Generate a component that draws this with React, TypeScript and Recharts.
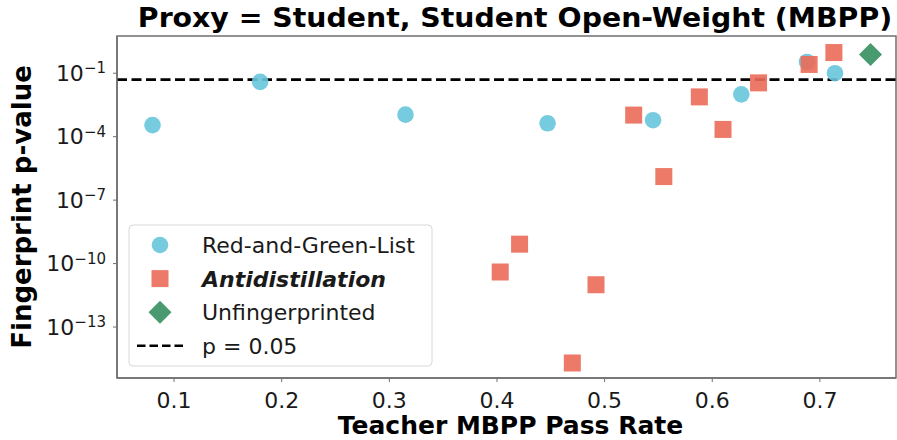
import React from "react";
import {
  ScatterChart,
  Scatter,
  XAxis,
  YAxis,
  ReferenceLine,
  ReferenceArea,
  Legend,
} from "recharts";

// values
const rglRate = [0.08, 0.18, 0.315, 0.447, 0.545, 0.627, 0.688, 0.714];
const rglP = [3.5e-4, 3.9e-2, 1.1e-3, 4.3e-4, 6.0e-4, 1.0e-2, 0.34, 0.1];

const antiRate = [0.403, 0.421, 0.47, 0.492, 0.527, 0.555, 0.588, 0.61, 0.643, 0.69, 0.713];
const antiP = [4.0e-11, 8.3e-10, 2.0e-15, 1.0e-11, 1.05e-3, 1.3e-6, 7.6e-3, 2.2e-4, 3.5e-2, 0.26, 0.95];

const plainRate = [0.747];
const plainP = [0.76];

const xTicks = [0.1, 0.2, 0.3, 0.4, 0.5, 0.6, 0.7];
const yTicks = [1e-13, 1e-10, 1e-7, 1e-4, 1e-1];
const xDomain: [number, number] = [0.047, 0.7707];
const yDomain: [number, number] = [3.9e-16, 5.75];
const threshold = 0.05;

const BLUE = "#68c5dc";
const RED = "#eb6a58";
const GREEN = "#3f9566";
const AXIS = "#6f6f6f";
const TEXT = "#1a1a1a";

const toPoints = (xs: number[], ps: number[]) =>
  xs.map((x, i) => ({ x, p: ps[i] }));

const rglData = toPoints(rglRate, rglP);
const antiData = toPoints(antiRate, antiP);
const plainData = toPoints(plainRate, plainP);

const CircleDot = (props: any) => (
  <circle cx={props.cx} cy={props.cy} r={8.3} fill={BLUE} fillOpacity={0.9} />
);

const SquareDot = (props: any) => (
  <rect
    x={props.cx - 8.5}
    y={props.cy - 8.5}
    width={17}
    height={17}
    fill={RED}
    fillOpacity={0.9}
  />
);

const DiamondDot = (props: any) => {
  const { cx, cy } = props;
  const r = 11.5;
  return (
    <polygon
      points={`${cx},${cy - r} ${cx + r},${cy} ${cx},${cy + r} ${cx - r},${cy}`}
      fill={GREEN}
      fillOpacity={0.95}
    />
  );
};

const LogTick = (props: any) => {
  const { x, y, payload } = props;
  const e = Math.round(Math.log10(payload.value));
  return (
    <text x={x} y={y + 7.5} textAnchor="end" fontSize={22} fill={TEXT}>
      <tspan>10</tspan>
      <tspan dy={-7.5} fontSize={15}>{`\u2212${-e}`}</tspan>
    </text>
  );
};

const legendRows = [
  { name: "Red-and-Green-List", kind: "circle" },
  { name: "Antidistillation", kind: "square" },
  { name: "Unfingerprinted", kind: "diamond" },
  { name: "p = 0.05", kind: "dash" },
];

const renderLegend = () => (
  <svg width={306} height={144} style={{ display: "block" }}>
    <rect
      x={1}
      y={1}
      width={303}
      height={141}
      rx={4}
      fill="#fff"
      fillOpacity={0.8}
      stroke="#d8d8d8"
    />
    {legendRows.map((row, i) => {
      const cy = 21 + i * 33.6;
      let mark: React.ReactNode = null;
      if (row.kind === "circle") mark = <CircleDot cx={32} cy={cy} />;
      if (row.kind === "square") mark = <SquareDot cx={32} cy={cy} />;
      if (row.kind === "diamond") mark = <DiamondDot cx={32} cy={cy} />;
      if (row.kind === "dash")
        mark = (
          <line
            x1={9}
            x2={55}
            y1={cy}
            y2={cy}
            stroke="#000"
            strokeWidth={2.6}
            strokeDasharray="8.5 4"
          />
        );
      const special = row.kind === "square";
      return (
        <g key={row.name}>
          {mark}
          <text
            x={74}
            y={cy + 8}
            fontSize={22}
            fill={TEXT}
            fontWeight={special ? "bold" : "normal"}
            fontStyle={special ? "italic" : "normal"}
          >
            {row.name}
          </text>
        </g>
      );
    })}
  </svg>
);

export default function App() {
  return (
    <div
      style={{
        position: "absolute",
        left: 0,
        top: 0,
        width: 897,
        height: 440,
        background: "#fff",
        fontFamily: "'DejaVu Sans', sans-serif",
      }}
    >
      <div
        style={{
          position: "absolute",
          left: 133,
          width: 764,
          top: 5,
          textAlign: "center",
          fontSize: 26,
          lineHeight: "26px",
          fontWeight: "bold",
          color: "#000",
          whiteSpace: "nowrap",
          transform: "scaleX(1.09)",
          transformOrigin: "center",
        }}
      >
        Proxy = Student, Student Open-Weight (MBPP)
      </div>
      <ScatterChart
        width={897}
        height={440}
        margin={{ top: 36, right: 1, bottom: 0, left: 0 }}
      >
        <XAxis
          type="number"
          dataKey="x"
          domain={xDomain}
          ticks={xTicks}
          allowDataOverflow
          height={62}
          tickSize={4}
          tickMargin={10}
          axisLine={{ stroke: AXIS, strokeWidth: 1.5 }}
          tickLine={{ stroke: AXIS }}
          tick={{ fontSize: 22, fill: TEXT }}
          tickFormatter={(v: number) => v.toFixed(1)}
          label={{
            value: "Teacher MBPP Pass Rate",
            position: "insideBottom",
            offset: 6,
            fontSize: 25,
            fontWeight: "bold",
            fill: "#000",
            dx: 4,
          }}
        />
        <YAxis
          type="number"
          dataKey="p"
          scale="log"
          domain={yDomain}
          ticks={yTicks}
          allowDataOverflow
          width={117}
          tickSize={4}
          tickMargin={7}
          axisLine={{ stroke: AXIS, strokeWidth: 1.5 }}
          tickLine={{ stroke: AXIS }}
          tick={<LogTick />}
          label={{
            value: "Fingerprint p-value",
            angle: -90,
            position: "insideLeft",
            offset: 22,
            fontSize: 26,
            fontWeight: "bold",
            fill: "#000",
            style: { textAnchor: "middle" },
          }}
        />
        <ReferenceArea
          x1={xDomain[0]}
          x2={xDomain[1]}
          y1={yDomain[0]}
          y2={yDomain[1]}
          fill="none"
          stroke={AXIS}
          strokeWidth={1.5}
          ifOverflow="visible"
        />
        <Scatter
          name="Red-and-Green-List"
          data={rglData}
          shape={<CircleDot />}
          isAnimationActive={false}
        />
        <Scatter
          name="Antidistillation"
          data={antiData}
          shape={<SquareDot />}
          isAnimationActive={false}
        />
        <Scatter
          name="Unfingerprinted"
          data={plainData}
          shape={<DiamondDot />}
          isAnimationActive={false}
        />
        <ReferenceLine
          y={threshold}
          stroke="#000"
          strokeWidth={2.6}
          strokeDasharray="10 4.5"
          ifOverflow="visible"
        />
        <Legend
          layout="horizontal"
          verticalAlign="middle"
          align="center"
          content={renderLegend}
          wrapperStyle={{ left: 128, top: 224, width: 306, height: 144 }}
        />
      </ScatterChart>
    </div>
  );
}
